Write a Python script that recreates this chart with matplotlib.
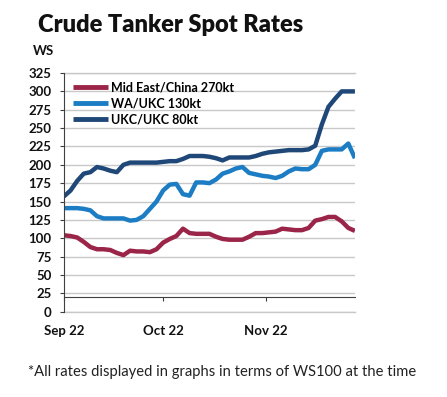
import pandas as pd
import matplotlib.pyplot as plt

# day offsets from 1 Sep 2022
days = list(range(0, 90, 2))

mid_east_china = [104, 103, 101, 95, 88, 85, 85, 84, 80, 77, 83, 82, 82, 81, 85,
                  94, 99, 103, 113, 107, 106, 106, 106, 102, 99, 98, 98, 98, 102, 107,
                  107, 108, 109, 113, 112, 111, 111, 114, 124, 126, 129, 129, 123, 114, 110]
wa_ukc = [141, 141, 141, 140, 138, 130, 127, 127, 127, 127, 124, 125, 130, 140, 150,
          165, 173, 174, 160, 158, 176, 176, 175, 180, 188, 191, 195, 197, 189, 187,
          185, 184, 182, 185, 191, 195, 194, 194, 200, 219, 221, 221, 221, 229, 209]
ukc_ukc = [157, 165, 178, 188, 190, 197, 195, 192, 190, 200, 203, 203, 203, 203, 203,
           204, 205, 205, 208, 212, 212, 212, 211, 209, 206, 210, 210, 210, 210, 212,
           215, 217, 218, 219, 220, 220, 220, 221, 226, 255, 279, 290, 300, 300, 300]

series_names = ["Mid East/China 270kt", "WA/UKC 130kt", "UKC/UKC 80kt"]
series_colors = ["#9B2548", "#1C7DC4", "#1F4878"]

tick_dates = ["2022-09-01", "2022-10-01", "2022-11-01"]
tick_labels = ["Sep 22", "Oct 22", "Nov 22"]

dates = pd.Timestamp("2022-09-01") + pd.to_timedelta(days, unit="D")

plt.rcParams["font.family"] = ["Lato", "DejaVu Sans"]

fig = plt.figure(figsize=(4.47, 3.97), dpi=100)
ax = fig.add_axes([0.143, 0.215, 0.651, 0.601])

for vals, name, col in zip([mid_east_china, wa_ukc, ukc_ukc], series_names, series_colors):
    ax.plot(dates, vals, color=col, lw=3.2, label=name, solid_capstyle="butt")

ax.set_ylim(0, 325)
ax.set_yticks(range(0, 326, 25))
ax.set_xlim(pd.Timestamp("2022-09-01"), pd.Timestamp("2022-11-28"))
ax.set_xticks(pd.to_datetime(tick_dates))
ax.set_xticklabels(tick_labels)

ax.grid(axis="y", color="#c8c8c8", lw=1)
ax.set_axisbelow(True)
for gy in [0, 325]:
    ax.axhline(gy, color="#c8c8c8", lw=1, clip_on=False, zorder=0)

ax.spines["top"].set_visible(False)
ax.spines["right"].set_visible(False)
ax.spines["left"].set_color("#404040")
ax.spines["bottom"].set_position(("data", 20))
ax.spines["bottom"].set_color("#404040")

ax.tick_params(axis="y", length=3, width=0.8, color="#404040", pad=6,
               labelsize=9.5, labelcolor="#111111")
ax.tick_params(axis="x", length=3, width=0.8, color="#404040", pad=17,
               labelsize=9.5, labelcolor="#111111")
for lab in ax.get_xticklabels() + ax.get_yticklabels():
    lab.set_fontweight("bold")

leg = ax.legend(loc="upper left", bbox_to_anchor=(0.0, 1.0), frameon=False,
                handlelength=2.8, handletextpad=0.25, labelspacing=0.3,
                borderaxespad=0.3, prop={"size": 9, "weight": "bold"})
for line in leg.get_lines():
    line.set_linewidth(3.5)

fig.text(38 / 447, 1 - 32 / 397, "Crude Tanker Spot Rates", fontsize=17,
         fontweight="heavy", color="#111111", va="baseline")
fig.text(33 / 447, 1 - 55 / 397, "WS", fontsize=9.5, fontweight="bold",
         color="#111111", va="baseline")
fig.text(222 / 447, 1 - 376 / 397, "*All rates displayed in graphs in terms of WS100 at the time",
         fontsize=10.6, color="#222222", ha="center", va="baseline")

fig.savefig("out.png", dpi=100)
